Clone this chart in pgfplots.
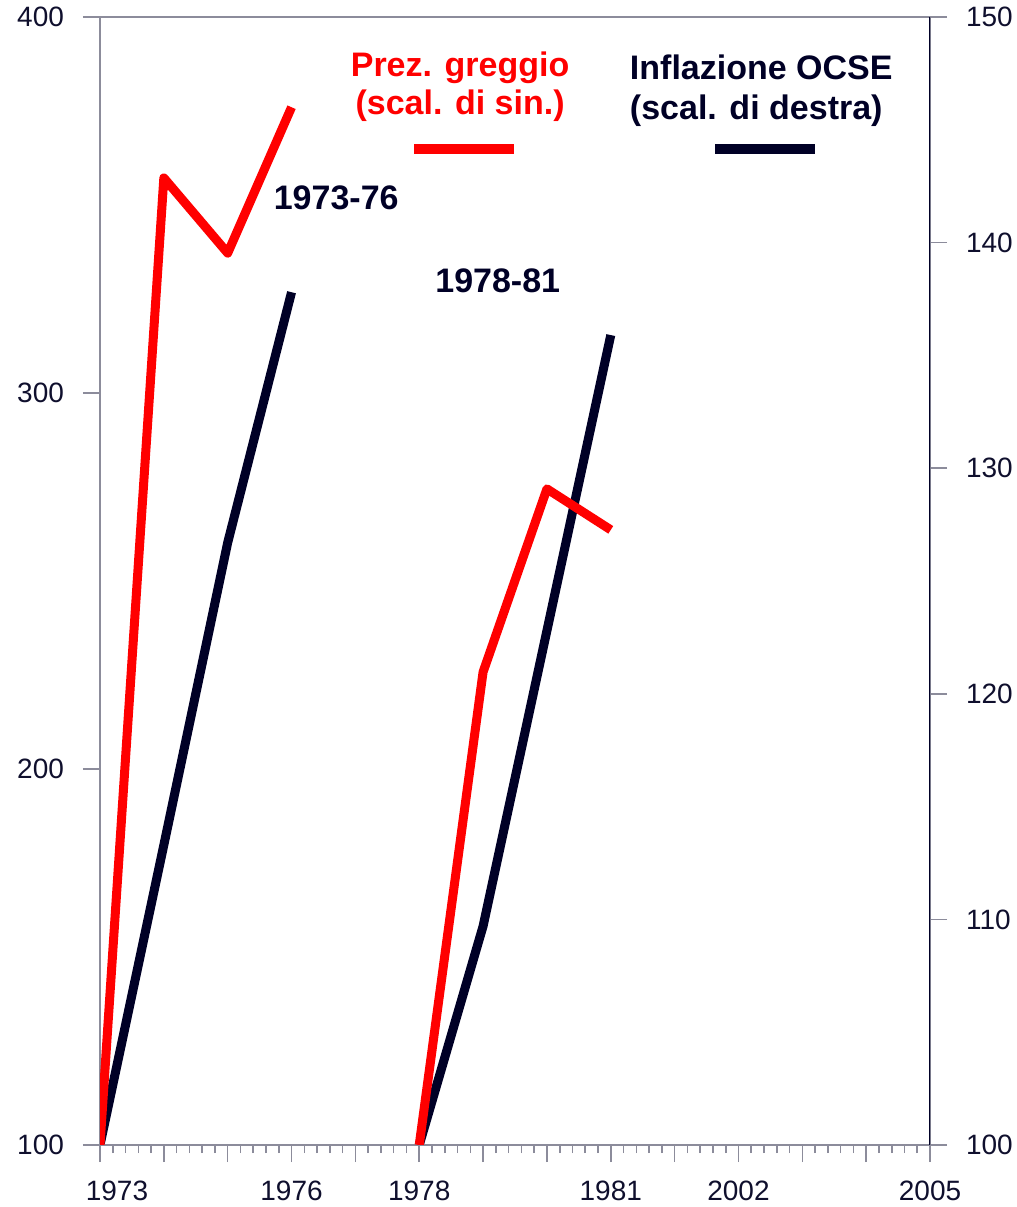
\documentclass[border=0pt]{standalone}
\usepackage{fontspec}
\setmainfont{Liberation Sans}
\usepackage{pgfplots}
\pgfplotsset{compat=1.18}
\definecolor{navy}{RGB}{0,0,38}
\definecolor{axgray}{RGB}{140,140,155}
\definecolor{lblc}{RGB}{15,15,45}
\begin{document}
\begin{tikzpicture}
\pgfplotsset{every axis/.append style={scale only axis, width=415pt, height=564pt,
  xmin=0, xmax=13, /pgf/number format/assume math mode=true,
  tick label style={font=\fontsize{14}{16}\selectfont, text=lblc},
  tick align=outside, tick style={draw=axgray, line width=0.8pt},
  major tick length=8.5pt, minor tick length=4pt}}
% right axis: OECD inflation
\begin{axis}[name=rax, ymin=100, ymax=150, axis y line*=right, hide x axis,
  axis line style={draw=navy, line width=0.8pt, -},
  ytick={100,110,120,130,140,150},
  yticklabel style={xshift=6pt}]
\addplot[navy, line width=4.5pt, line join=round] coordinates {(0,100) (1,113.3) (2,126.7) (3,137.8)};
\addplot[navy, line width=4.5pt, line join=round] coordinates {(5,100) (6,109.7) (7,122.8) (8,135.9)};
\end{axis}
% left axis: crude price
\begin{axis}[name=main, ymin=100, ymax=400,
  axis line style={draw=axgray, line width=0.8pt},
  xtick={0,...,13}, xticklabels={\hspace*{17pt}1973,,,1976,,1978,,,1981,,2002,,,2005},
  minor x tick num=4, xtick pos=left, ytick pos=left,
  ytick={100,200,300,400},
  xticklabel style={yshift=-6pt}, yticklabel style={xshift=-6pt}]
\addplot[red, line width=4.5pt, line join=round] coordinates {(0,100) (1,357.2) (2,337.2) (3,376)};
\addplot[red, line width=4.5pt, line join=round] coordinates {(5,100) (6,225.8) (7,274.5) (8,263.6)};
\draw[navy, line width=0.8pt] (rel axis cs:1,0) -- (rel axis cs:1,1);
\node[font=\fontsize{17}{19}\selectfont\bfseries, text=red, align=center] at (axis cs:5.64,381.5) {Prez. greggio\\(scal. di sin.)};
\node[font=\fontsize{17}{20}\selectfont\bfseries, text=navy, align=left, anchor=west] at (axis cs:8.19,380.5) {Inflazione OCSE\\(scal. di destra)};
\draw[red, line width=5pt] (axis cs:4.92,364.9) -- (axis cs:6.48,364.9);
\draw[navy, line width=5pt] (axis cs:9.64,364.9) -- (axis cs:11.2,364.9);
\node[font=\fontsize{17}{19.5}\selectfont\bfseries, text=navy] at (axis cs:3.70,351.9) {1973-76};
\node[font=\fontsize{17}{19.5}\selectfont\bfseries, text=navy] at (axis cs:6.23,329.8) {1978-81};
\end{axis}
\pgfresetboundingbox
\path ([shift={(-50pt,-31pt)}]main.south west) rectangle ([shift={(43pt,8.5pt)}]main.north east);
\end{tikzpicture}
\end{document}
